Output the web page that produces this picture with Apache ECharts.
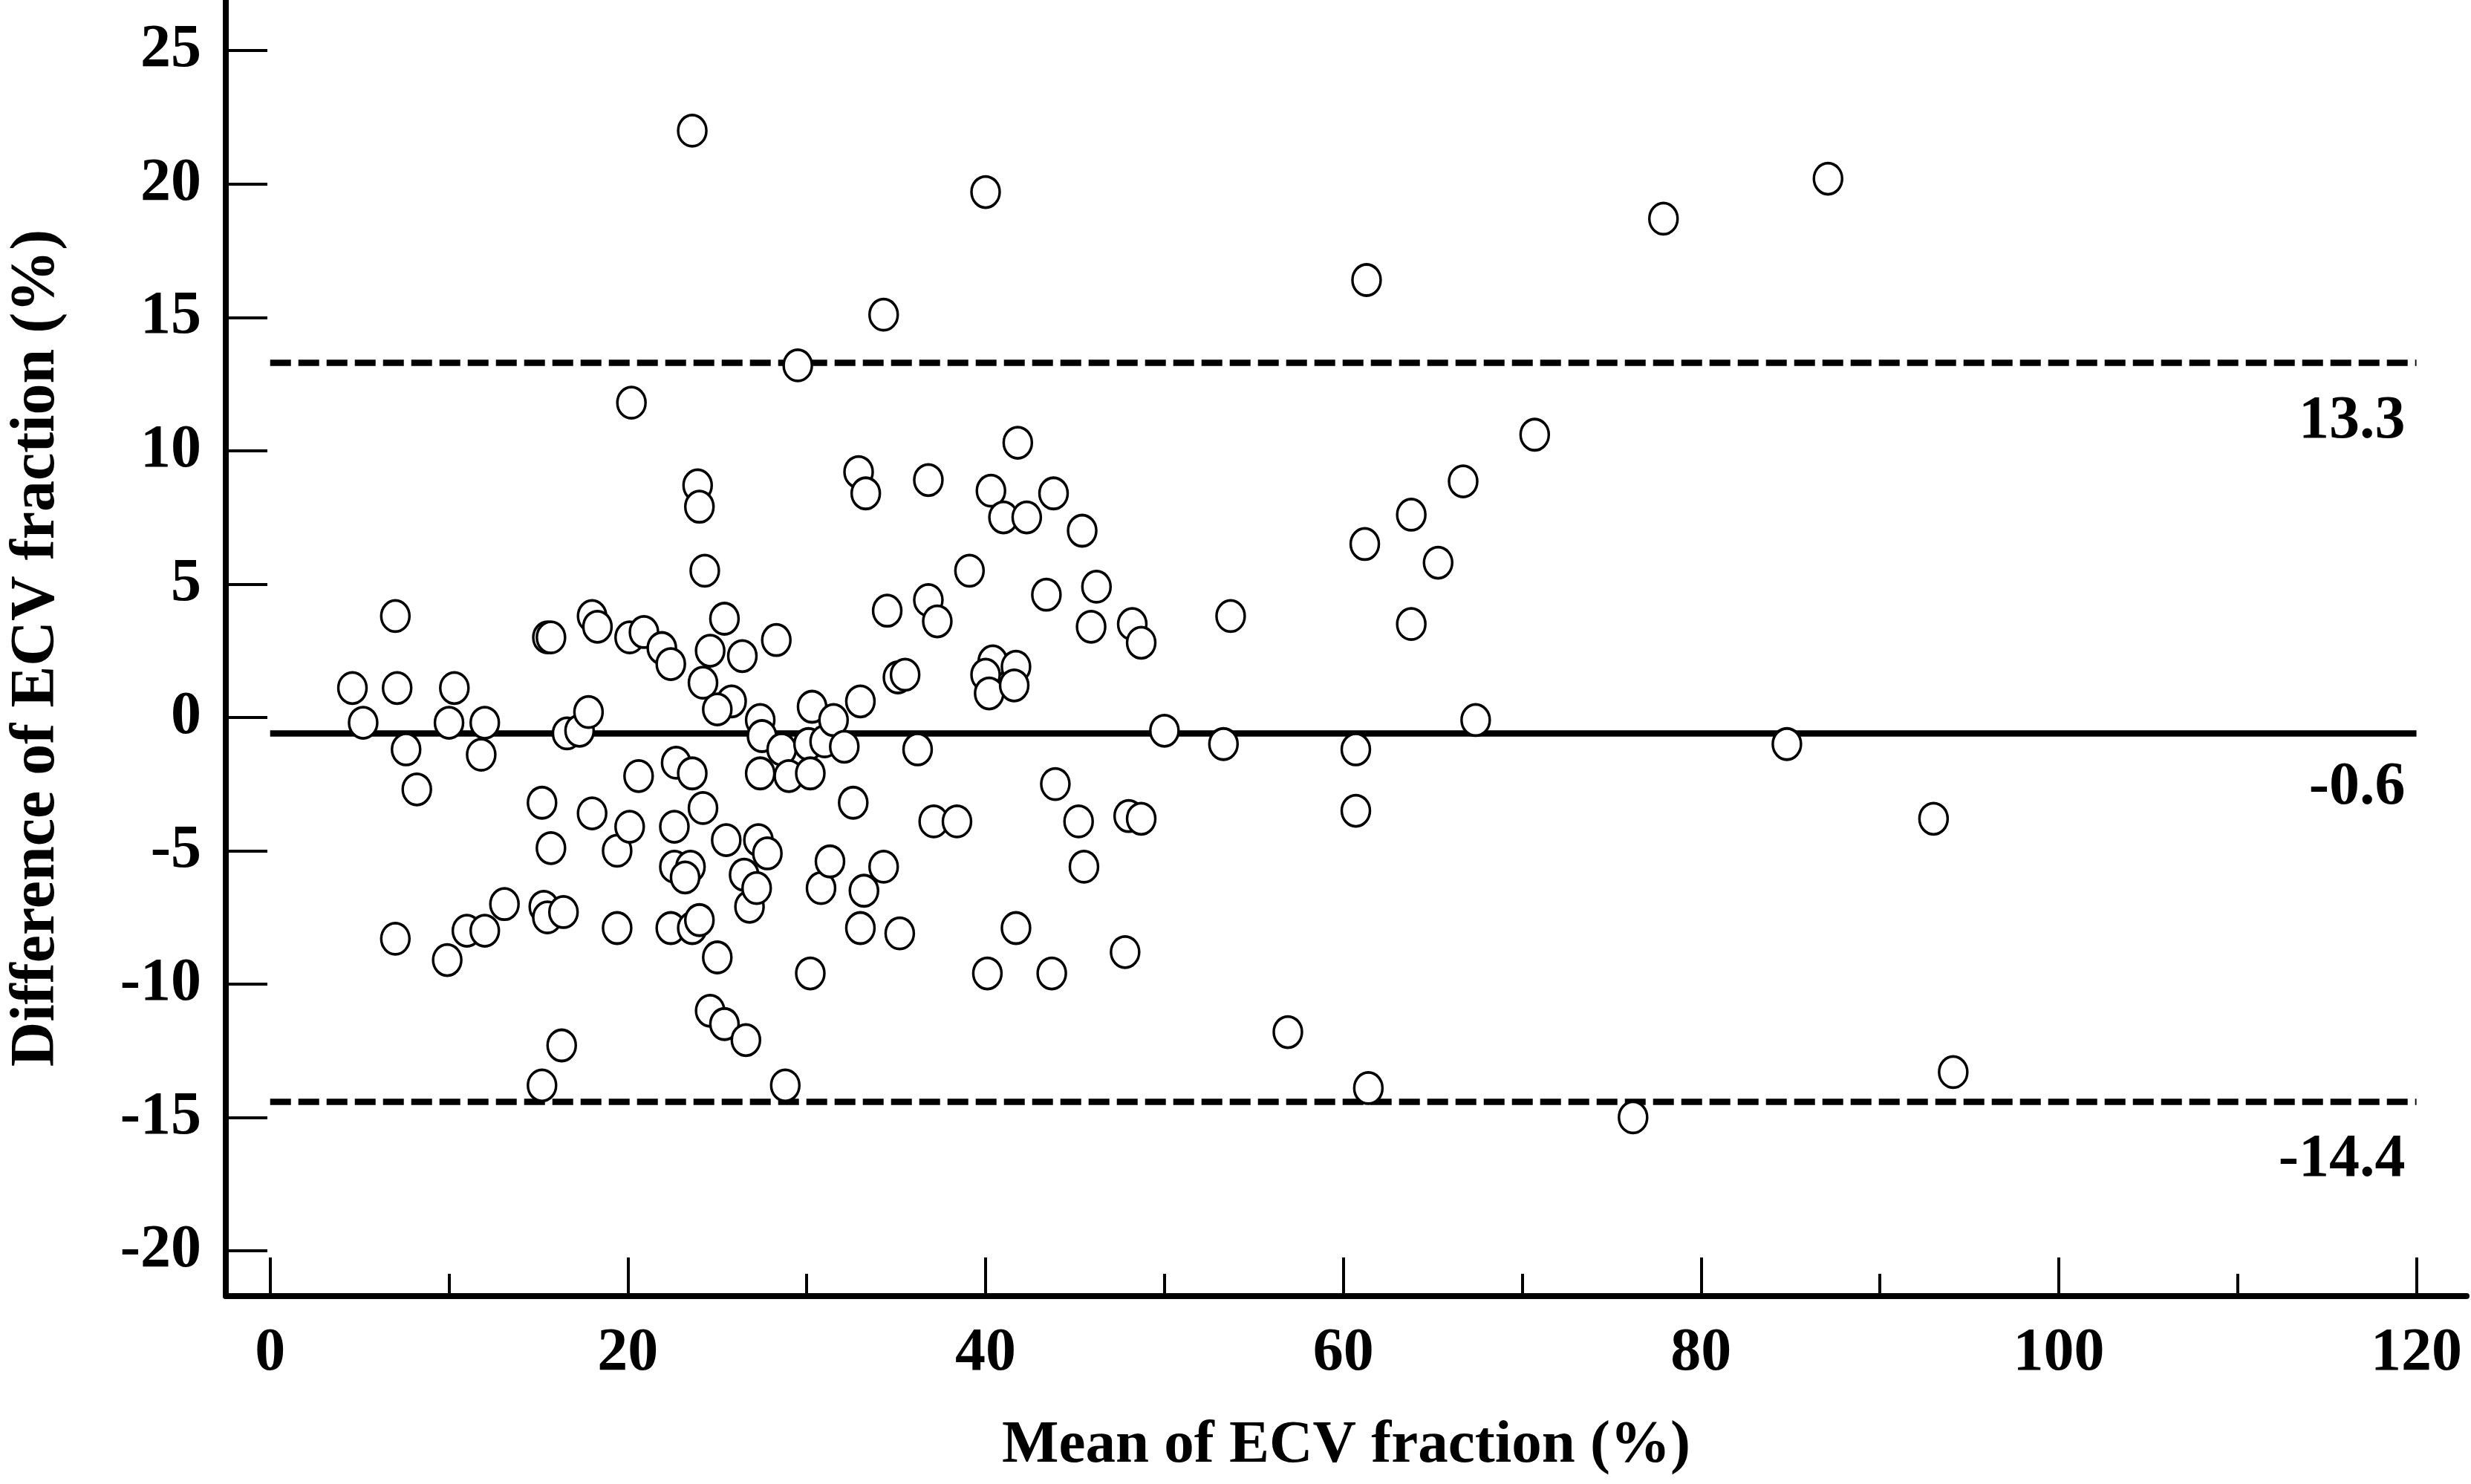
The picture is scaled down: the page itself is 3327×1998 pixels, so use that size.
<!DOCTYPE html>
<html><head><meta charset="utf-8">
<script src="https://cdn.jsdelivr.net/npm/echarts@6/dist/echarts.min.js"></script>
<style>html,body{margin:0;padding:0;background:#fff}#c{width:3327px;height:1998px}</style>
</head><body><div id="c"></div>
<script>
const meanECV = [4.6,5.2,7.0,7.1,7.6,8.2,7.0,9.9,10.0,10.3,11.0,12.0,12.0,11.8,13.1,15.2,15.5,15.7,15.7,15.3,15.5,16.4,16.3,15.2,16.6,17.3,17.8,18.0,18.3,18.0,19.4,19.4,20.1,20.9,20.2,20.6,20.1,21.9,22.4,22.7,22.6,22.6,23.5,23.2,22.4,23.6,23.6,24.0,23.6,23.9,24.0,24.3,24.6,24.2,24.2,25.0,24.6,25.4,25.4,25.8,25.0,25.5,26.4,26.5,26.8,27.2,26.6,27.4,27.5,27.4,27.3,27.8,28.3,28.6,29.0,28.8,29.5,30.3,30.1,31.0,30.2,30.8,31.3,30.2,31.5,32.1,32.6,32.9,33.3,33.0,33.2,33.0,34.3,34.5,34.3,35.1,35.5,35.2,36.8,36.8,37.3,36.2,37.1,38.4,39.1,40.0,40.3,40.4,40.0,40.2,40.1,41.0,41.8,42.3,41.7,41.6,41.7,43.8,43.4,43.9,43.7,45.4,46.2,45.9,45.2,45.5,48.2,48.7,48.0,48.7,47.8,50.0,53.7,53.3,56.9,60.7,60.7,61.2,61.3,61.4,63.8,63.8,65.3,66.7,67.4,70.7,76.2,77.9,84.8,87.1,93.0,94.1];
const diffECV = [1.1,-0.2,3.8,1.1,-1.2,-2.7,-8.3,-9.1,-0.2,1.1,-8.0,-8.0,-0.2,-1.4,-7.0,-3.2,3.0,3.0,-4.9,-7.1,-7.5,-7.3,-12.3,-13.8,-0.6,-0.5,0.2,3.8,3.4,-3.6,-5.0,-7.9,3.0,3.2,11.8,-2.2,-4.1,2.6,2.0,-1.7,-4.1,-5.6,-5.6,-6.0,-7.9,-2.1,-7.9,-7.6,22.0,8.7,7.9,5.5,2.5,1.3,-3.4,-9.0,-11.0,-11.5,3.7,0.6,0.3,-4.6,2.3,-5.9,-7.1,-6.4,-12.1,-0.1,-0.7,-2.1,-4.6,-5.1,2.9,-1.2,-2.2,-13.8,13.2,0.4,-1.0,-0.9,-2.1,-6.4,-5.4,-9.6,-0.1,-1.1,-3.2,9.2,8.4,0.6,-6.5,-7.9,15.1,4.0,-5.6,1.5,1.6,-8.1,8.9,4.4,3.6,-1.2,-3.9,-3.9,5.5,19.7,8.5,2.1,1.6,0.9,-9.6,7.5,10.3,7.5,1.9,1.2,-7.9,8.4,4.6,-2.5,-9.6,7.0,4.9,3.4,-3.9,-5.6,3.5,2.8,-3.7,-3.8,-8.8,-0.5,3.8,-1.0,-11.8,-1.2,-3.5,6.5,16.4,-13.9,7.6,3.5,5.8,8.85,-0.1,10.6,-15.0,18.7,-1.0,20.2,-3.8,-13.3];
const limitValues = [13.3, -0.6, -14.4];
const limitLabels = ['13.3', '-0.6', '-14.4'];
const limitLineTypes = ['dashed', 'solid', 'dashed'];
const lineSpan = [0, 120];
const xTickValues = [0, 20, 40, 60, 80, 100, 120];
const xMinorTickValues = [10, 30, 50, 70, 90, 110];
const yTickValues = [-20, -15, -10, -5, 0, 5, 10, 15, 20, 25];

const FONT = 'Liberation Serif';
const chart = echarts.init(document.getElementById('c'), null, {renderer: 'canvas'});
const points = meanECV.map((x, i) => [x, diffECV[i]]);
const XMIN = -2.48, XMAX = 122.8, YMIN = -21.7, YMAX = 26.9;

const markData = limitValues.map((v, i) => [
  {coord: [lineSpan[0], v], lineStyle: {type: limitLineTypes[i] === 'dashed' ? [28, 10] : 'solid', width: 8.5, color: '#000'},
   label: {formatter: limitLabels[i], distance: [15, limitLineTypes[i] === 'dashed' ? 38 : 32]}},
  {coord: [lineSpan[1], v]}
]);

const option = {
  animation: false,
  backgroundColor: '#fff',
  grid: {left: 298, right: 6, top: 0, bottom: 253},
  xAxis: [{
    type: 'value', min: XMIN, max: XMAX, position: 'bottom',
    splitLine: {show: false},
    axisLine: {show: true, onZero: false, lineStyle: {color: '#000', width: 8}},
    axisTick: {show: true, inside: true, length: 52, lineStyle: {color: '#000', width: 4}, customValues: xTickValues},
    axisLabel: {show: true, customValues: xTickValues, color: '#000', fontFamily: FONT, fontWeight: 'bold', fontSize: 82, margin: 37},
    name: 'Mean of ECV fraction (%)', nameLocation: 'middle', nameGap: 162,
    nameTextStyle: {color: '#000', fontFamily: FONT, fontWeight: 'bold', fontSize: 81}
  }, {
    type: 'value', min: XMIN, max: XMAX, position: 'bottom',
    splitLine: {show: false},
    axisLine: {show: false, onZero: false},
    axisLabel: {show: false},
    axisTick: {show: true, inside: true, length: 30, lineStyle: {color: '#000', width: 4}, customValues: xMinorTickValues}
  }],
  yAxis: {
    type: 'value', min: YMIN, max: YMAX, position: 'left',
    splitLine: {show: false},
    axisLine: {show: true, onZero: false, lineStyle: {color: '#000', width: 8}},
    axisTick: {show: true, inside: true, length: 56, lineStyle: {color: '#000', width: 4}, customValues: yTickValues},
    axisLabel: {show: true, customValues: yTickValues, color: '#000', fontFamily: FONT, fontWeight: 'bold', fontSize: 82, margin: 33},
    name: 'Difference of ECV fraction (%)', nameLocation: 'middle', nameGap: 212,
    nameTextStyle: {color: '#000', fontFamily: FONT, fontWeight: 'bold', fontSize: 84}
  },
  series: [{
    type: 'scatter',
    xAxisIndex: 0, yAxisIndex: 0,
    data: points,
    symbol: 'circle',
    symbolSize: [38, 42],
    z: 3,
    itemStyle: {color: '#fff', borderColor: '#000', borderWidth: 3.6, opacity: 1},
    markLine: {
      silent: true, z: 1,
      symbol: ['none', 'none'],
      label: {show: true, position: 'insideEndBottom', distance: [15, 32], color: '#000', fontFamily: FONT, fontWeight: 'bold', fontSize: 82},
      data: markData
    }
  }]
};
chart.setOption(option);
</script>
</body></html>
